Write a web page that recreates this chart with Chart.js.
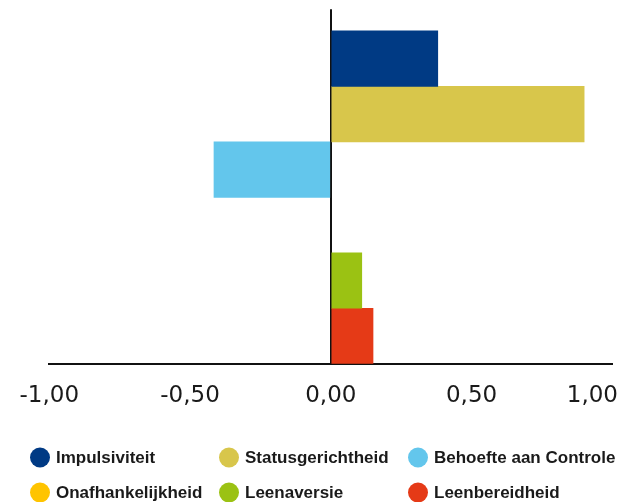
<!DOCTYPE html>
<html>
<head>
<meta charset="utf-8">
<script src="https://cdn.jsdelivr.net/npm/chart.js@4.4.1/dist/chart.umd.min.js"></script>
<style>
  html, body { margin: 0; padding: 0; background: #ffffff; }
  canvas { display: block; }
</style>
</head>
<body>
<canvas id="chart" width="622" height="502"></canvas>
<script>
// Scores per dimension (horizontal bars, one colour each)
const categories = ['Impulsiviteit', 'Statusgerichtheid', 'Behoefte aan Controle', 'Onafhankelijkheid', 'Leenaversie', 'Leenbereidheid'];
const scores = [0.38, 0.90, -0.415, 0, 0.11, 0.15];
const colors = ['#003A84', '#D8C64B', '#63C6EC', '#FFC400', '#9BC213', '#E53A17'];
const tickValues = [-1, -0.5, 0, 0.5, 1];

const formatTick = v => v.toFixed(2).replace('.', ',');

// One dataset per dimension, placed on its own row of the index axis
const datasets = categories.map((name, i) => ({
  label: name,
  data: [{ x: scores[i], y: i + 1 }],
  backgroundColor: colors[i],
  borderWidth: 0,
  barPercentage: 1,
  categoryPercentage: 1,
  inflateAmount: ctx => (ctx.raw && ctx.raw.x === 0 ? 0 : 'auto')
}));

// Tick labels drawn under the axis, kept inside the canvas edges
const tickLabels = {
  id: 'tickLabels',
  afterDraw(chart) {
    const scale = chart.scales.x;
    const ctx = chart.ctx;
    ctx.save();
    ctx.font = '23px "DejaVu Sans"';
    ctx.fillStyle = '#1a1a1a';
    ctx.textBaseline = 'alphabetic';
    ctx.textAlign = 'left';
    const y = chart.chartArea.bottom + 38;
    scale.ticks.forEach((t, i) => {
      const text = formatTick(t.value);
      const w = ctx.measureText(text).width;
      let left = scale.getPixelForTick(i) - w / 2;
      left = Math.max(4, Math.min(left, chart.width - 4 - w));
      ctx.fillText(text, left, y);
    });
    ctx.restore();
  }
};

// Legend laid out as a three-column grid below the axis
const gridLegend = {
  id: 'gridLegend',
  afterDraw(chart) {
    const ctx = chart.ctx;
    const cols = 3, startX = 30, colWidth = 189, startY = 457.5, rowHeight = 35, r = 10;
    ctx.save();
    ctx.font = 'bold 17px "Liberation Sans", Arial, sans-serif';
    ctx.textBaseline = 'middle';
    ctx.textAlign = 'left';
    chart.data.datasets.forEach((ds, i) => {
      const x = startX + (i % cols) * colWidth;
      const y = startY + Math.floor(i / cols) * rowHeight;
      ctx.fillStyle = ds.backgroundColor;
      ctx.beginPath();
      ctx.arc(x + r, y, r, 0, Math.PI * 2);
      ctx.fill();
      ctx.fillStyle = '#1a1a1a';
      ctx.fillText(ds.label, x + 2 * r + 6, y + 1);
    });
    ctx.restore();
  }
};

new Chart(document.getElementById('chart'), {
  type: 'bar',
  data: { datasets },
  options: {
    indexAxis: 'y',
    responsive: false,
    animation: false,
    devicePixelRatio: 1,
    layout: { padding: { top: 9.3, left: 49.3, right: 9.7, bottom: 98.3 } },
    plugins: {
      legend: { display: false },
      tooltip: { enabled: false }
    },
    scales: {
      x: {
        type: 'linear',
        min: -1,
        max: 1,
        z: 1,
        afterBuildTicks(scale) { scale.ticks = tickValues.map(v => ({ value: v })); },
        afterFit(scale) { scale.height = 40; scale.paddingLeft = 0; scale.paddingRight = 0; },
        ticks: { display: false },
        grid: {
          drawTicks: false,
          lineWidth: 2,
          color: ctx => (ctx.tick && ctx.tick.value === 0 ? '#111111' : 'rgba(0,0,0,0)')
        },
        border: { display: true, color: '#111111', width: 2 }
      },
      y: {
        type: 'linear',
        reverse: true,
        stacked: true,
        offset: false,
        min: 0.11,
        max: 6.5,
        afterBuildTicks(scale) { scale.ticks = categories.map((_, i) => ({ value: i + 1 })); },
        display: false
      }
    }
  },
  plugins: [tickLabels, gridLegend]
});
</script>
</body>
</html>
